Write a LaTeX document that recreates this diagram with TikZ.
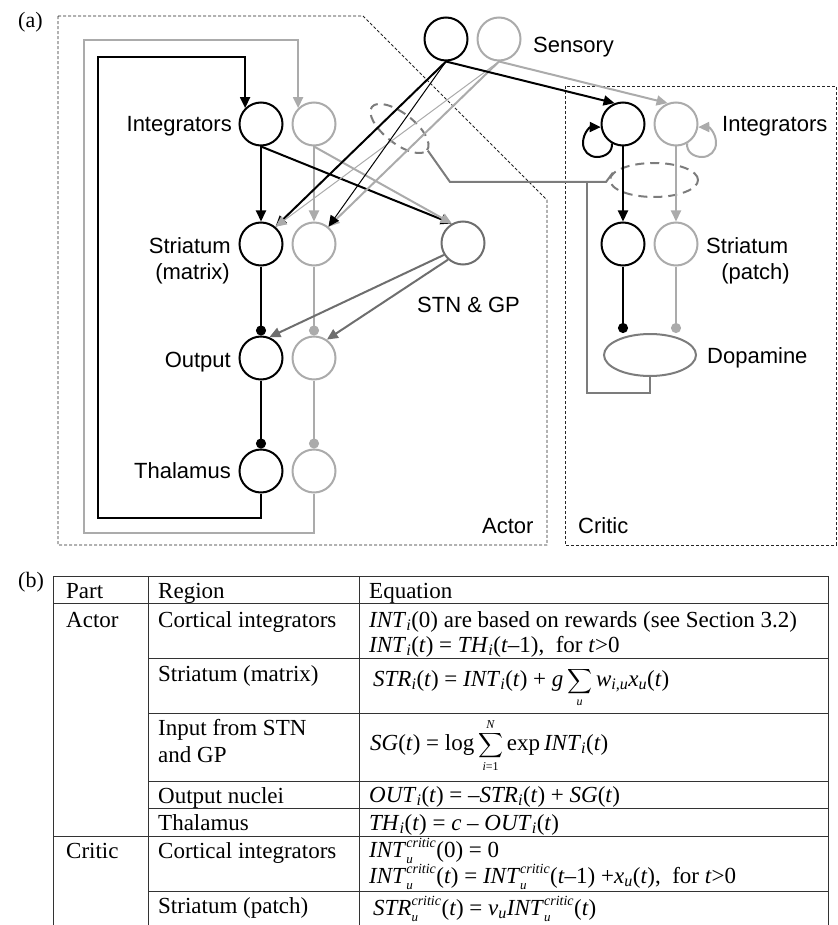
\documentclass[tikz,border=0pt]{standalone}
\usepackage{exscale}
\usepackage{fontspec}
\setmainfont{Liberation Serif}
\newfontfamily\sansf{Liberation Sans}
\usetikzlibrary{arrows.meta,shapes.geometric}
\definecolor{lg}{HTML}{ABABAB}
\definecolor{dg}{HTML}{6E6E6E}
\definecolor{mg}{HTML}{7C7C7C}
\newcommand\vi[1]{\textit{#1}}
\newcommand\sbs[1]{\textsubscript{\textit{#1}}}
\newcommand\subsup[2]{$_{\mbox{\fontsize{13}{13}\selectfont\textit{#1}}}^{\mbox{\fontsize{14}{14}\selectfont\textit{#2}}}$}
\newcommand\lmt[1]{\mbox{\fontsize{12}{12}\selectfont\textit{#1}}}
\begin{document}
\begin{tikzpicture}[x=1pt,y=-1pt,
  cb/.style={circle,draw=black,line width=2pt,minimum size=43pt,inner sep=0pt},
  cg/.style={circle,draw=lg,line width=2pt,minimum size=43pt,inner sep=0pt},
  lbl/.style={font=\sansf\fontsize{22}{26}\selectfont,inner sep=0pt},
  tt/.style={font=\fontsize{23}{27}\selectfont,inner sep=0pt,anchor=base west},
  blk/.style={draw=black,line width=2pt},
  blkthin/.style={draw=black,line width=1pt},
  gry/.style={draw=lg,line width=2pt},
  grythin/.style={draw=lg,line width=1pt},
  dgl/.style={draw=dg,line width=2pt},
  mgl/.style={draw=mg,line width=2pt},
  arr/.style={-{Triangle[length=11pt,width=10pt]}},
  dotend/.style={-{Circle[length=10pt]}},
  dsh/.style={draw=mg,line width=2pt,dash pattern=on 9pt off 6pt},
  box/.style={draw=black!85,line width=0.9pt,dash pattern=on 3pt off 2pt},
  tline/.style={draw=black!80,line width=1pt}
]
\useasboundingbox (0,0) rectangle (837,925);

% panel labels
\node[tt,font=\fontsize{22}{26}\selectfont] (pa) at (18,28) {(a)};
\node[tt,font=\fontsize{22}{26}\selectfont] (pb) at (18,587) {(b)};

% boxes
\draw[box] (58,16) -- (363,16) -- (547,200) -- (547,545) -- (58,545) -- cycle;
\draw[box] (565,86) rectangle (836,545);
\node[lbl,anchor=base west] (actor) at (482,533) {Actor};
\node[lbl,anchor=base west] (critic) at (578,533) {Critic};

% neurons
\node[cb] (s1) at (446,39) {};
\node[cg] (s2) at (499,39) {};
\node[cb] (ia1) at (261,124) {};
\node[cg] (ia2) at (314,124) {};
\node[cb] (st1) at (261,244) {};
\node[cg] (st2) at (314,244) {};
\node[cb] (o1) at (261,358) {};
\node[cg] (o2) at (314,358) {};
\node[cb] (th1) at (261,471) {};
\node[cg] (th2) at (314,471) {};
\node[circle,draw=dg,line width=2pt,minimum size=43pt,inner sep=0pt] (stn) at (463,243) {};
\node[cb] (ci1) at (623,124) {};
\node[cg] (ci2) at (676,124) {};
\node[cb] (cs1) at (623,244) {};
\node[cg] (cs2) at (676,244) {};
\node[ellipse,draw=mg,line width=2pt,minimum width=92pt,minimum height=42pt,inner sep=0pt] (da) at (650,355) {};
\node[ellipse,dsh,minimum width=70pt,minimum height=30pt,inner sep=0pt,rotate=-38] (ae) at (399.5,128.5) {};
\node[ellipse,dsh,minimum width=88pt,minimum height=34pt,inner sep=0pt] (ce) at (654,180) {};

% labels
\node[lbl,anchor=base west] (lsens) at (533,53) {Sensory};
\node[lbl,anchor=base east] (lint) at (232,132) {Integrators};
\node[lbl,anchor=base east] (lstr) at (231,253) {Striatum};
\node[lbl,anchor=base east] (lmat) at (230,279) {(matrix)};
\node[lbl,anchor=base east] (lout) at (231,367) {Output};
\node[lbl,anchor=base east] (lthal) at (231,478) {Thalamus};
\node[lbl,anchor=base west] (lstn) at (417,312) {STN \& GP};
\node[lbl,anchor=base west] (lcint) at (722,132) {Integrators};
\node[lbl,anchor=base west] (lcstr) at (706,253) {Striatum};
\node[lbl,anchor=base east] (lpatch) at (790,279) {(patch)};
\node[lbl,anchor=base west] (ldop) at (707,363) {Dopamine};

% actor feedback loops
\draw[gry,arr] (th2.south) |- (84,533) -- (84,40) -| (ia2.north west);
\draw[blk,arr] (th1.south) |- (98,518) -- (98,57) -| (ia1.north west);

% actor vertical chain
\draw[blk,arr] (ia1.south) -- (st1.north);
\draw[gry,arr] (ia2.south) -- (st2.north);
\draw[blk,dotend] (st1.south) -- (o1.north);
\draw[gry,dotend] (st2.south) -- (o2.north);
\draw[blk,dotend] (o1.south) -- (th1.north);
\draw[gry,dotend] (o2.south) -- (th2.north);

% integrators to STN & GP
\draw[blk,arr] (ia1.south) -- (stn.120);
\draw[gry,arr] (ia2.south) -- (stn.120);

% STN & GP to output
\draw[dgl,arr] (stn.212) -- (o1.68);
\draw[dgl,arr] (stn.228) -- (o2.55);

% sensory to striatum
\draw[blk,arr] (s1.south) -- (st1.50);
\draw[grythin,arr] (s2.south) -- (st1.50);
\draw[gry,arr] (s2.south) -- (st2.50);
\draw[blkthin,arr] (s1.south) -- (st2.50);

% sensory to critic integrators
\draw[blk,arr] (s1.south) -- (ci1.112);
\draw[gry,arr] (s2.south) -- (ci2.112);

% critic chain
\draw[blk,arr] (ci1.south) -- (cs1.north);
\draw[gry,arr] (ci2.south) -- (cs2.north);
\draw[blk,dotend] (cs1.south) -- (cs1.south |- da.north);
\draw[gry,dotend] (cs2.south) -- (cs2.south |- da.north);

% self loops
\draw[blk,arr] (ci1.240) .. controls (613,152) and (605,157) .. (597,157)
  .. controls (589,157) and (583,151) .. (583,143)
  .. controls (583,133) and (590,127) .. (ci1.188);
\draw[gry,arr] (ci2.300) .. controls (686,152) and (694,157) .. (702,157)
  .. controls (710,157) and (716,151) .. (716,143)
  .. controls (716,133) and (709,127) .. (ci2.352);

% dopamine modulation
\draw[mgl] (da.south) |- (587,393) -- (587,182);
\draw[mgl] (ae.east) -- (450,182) -- (606,182) -- (ce.170);

% table
\draw[tline] (53,925) -- (53,576) -- (828,576) -- (828,925);
\draw[tline] (148,576) -- (148,925);
\draw[tline] (359,576) -- (359,925);
\draw[tline] (53,603) -- (828,603);
\draw[tline] (53,836) -- (828,836);
\foreach \yy in {658,713,781,808,891} \draw[tline] (148,\yy) -- (828,\yy);

\node[tt] (h1) at (66,598) {Part};
\node[tt] (h2) at (158,598) {Region};
\node[tt] (h3) at (369,598) {Equation};

\node[tt] (pactor) at (66,627) {Actor};
\node[tt] (r1) at (158,627) {Cortical integrators};
\node[tt] (e1a) at (369,627) {\vi{INT}\sbs{i}(0) are based on rewards (see Section 3.2)};
\node[tt] (e1b) at (369,652) {\vi{INT}\sbs{i}(\vi{t}) = \vi{TH}\sbs{i}(\vi{t}–1),\ \ for \vi{t}>0};

\node[tt] (r2) at (158,681) {Striatum (matrix)};
\node[tt] (e2) at (373,686) {\vi{STR}\sbs{i}(\vi{t}) = \vi{INT}\sbs{i}(\vi{t}) + \vi{g}\,{\fontsize{18}{18}\selectfont$\displaystyle\sum_{\lmt{u}}$}\,\vi{w}\sbs{i,u}\vi{x}\sbs{u}(\vi{t})};

\node[tt] (r3a) at (158,735) {Input from STN};
\node[tt] (r3b) at (158,762) {and GP};
\node[tt] (e3) at (370,750) {\vi{SG}(\vi{t}) = log\,{\fontsize{18}{18}\selectfont$\displaystyle\sum_{\lmt{i}\mbox{\fontsize{12}{12}\selectfont =1}}^{\lmt{N}}$}\,exp\,\vi{INT}\sbs{i}(\vi{t})};

\node[tt] (r4) at (158,803) {Output nuclei};
\node[tt] (e4) at (369,802) {\vi{OUT}\sbs{i}(\vi{t}) = –\vi{STR}\sbs{i}(\vi{t}) + \vi{SG}(\vi{t})};

\node[tt] (r5) at (158,830) {Thalamus};
\node[tt] (e5) at (369,830) {\vi{TH}\sbs{i}(\vi{t}) = \vi{c} – \vi{OUT}\sbs{i}(\vi{t})};

\node[tt] (pcritic) at (66,858) {Critic};
\node[tt] (r6) at (158,858) {Cortical integrators};
\node[tt] (e6a) at (369,857) {\vi{INT}\subsup{u}{critic}(0) = 0};
\node[tt] (e6b) at (369,883) {\vi{INT}\subsup{u}{critic}(\vi{t}) = \vi{INT}\subsup{u}{critic}(\vi{t}–1) +\vi{x}\sbs{u}(\vi{t}),\ \ for \vi{t}>0};

\node[tt] (r7) at (158,913) {Striatum (patch)};
\node[tt] (e7) at (373,915) {\vi{STR}\subsup{u}{critic}(\vi{t}) = \vi{v}\sbs{u}\vi{INT}\subsup{u}{critic}(\vi{t})};
\end{tikzpicture}
\end{document}
